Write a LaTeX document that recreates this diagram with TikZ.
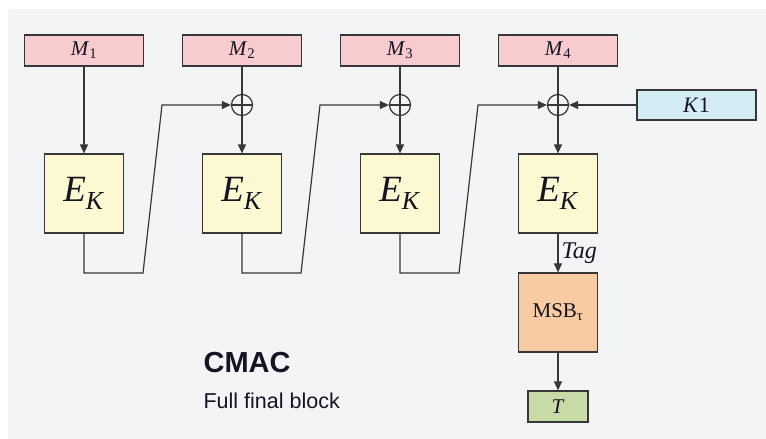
\documentclass[tikz,border=0pt]{standalone}
\usepackage{fontspec}
\setmainfont{Liberation Serif}
\newfontfamily\labelsans{Liberation Sans}
\usetikzlibrary{positioning}
\usetikzlibrary{arrows.meta}
\usetikzlibrary{calc}

\definecolor{paper}{RGB}{243,244,246}
\definecolor{linegray}{RGB}{55,55,55}
\definecolor{inkdark}{RGB}{20,20,35}
\definecolor{msgpink}{RGB}{248,203,206}
\definecolor{encyellow}{RGB}{252,248,210}
\definecolor{keyblue}{RGB}{212,236,244}
\definecolor{msborange}{RGB}{248,203,162}
\definecolor{taggreen}{RGB}{200,218,166}

\begin{document}
\begin{tikzpicture}[
        x=1pt, y=-1pt,
        >={Triangle[length=9pt,width=8pt]},
        node distance=158pt,
        line width=1.2pt,
        text=inkdark,
        msgnode/.style={rectangle, draw=linegray, fill=msgpink, minimum width=119pt, minimum height=31pt, inner sep=0pt, font=\fontsize{21}{21}\selectfont},
        encnode/.style={rectangle, draw=linegray, fill=encyellow, minimum size=79pt, inner sep=0pt, font=\fontsize{37}{37}\selectfont},
        xornode/.style={circle, draw=linegray, minimum size=21pt, inner sep=0pt,
            path picture={\draw[linegray] (path picture bounding box.north) -- (path picture bounding box.south)
                (path picture bounding box.west) -- (path picture bounding box.east);}},
        keynode/.style={rectangle, draw=linegray, fill=keyblue, minimum width=119pt, minimum height=30pt, inner sep=0pt, font=\fontsize{22}{22}\selectfont},
        msbnode/.style={rectangle, draw=linegray, fill=msborange, minimum size=79pt, inner sep=0pt, font=\fontsize{21}{21}\selectfont},
        tagnode/.style={rectangle, draw=linegray, fill=taggreen, minimum width=60pt, minimum height=31pt, inner sep=0pt, font=\fontsize{21}{21}\selectfont}
    ]

        \useasboundingbox (0,0) rectangle (766,439);
        \fill[paper] (8,9) rectangle (766,439);

        % Message blocks
        \node [msgnode] (Msg1) at (84,50.5) {\textit{M}\textsubscript{1}};
        \node [msgnode] (Msg2) [right of = Msg1] {\textit{M}\textsubscript{2}};
        \node [msgnode] (Msg3) [right of = Msg2] {\textit{M}\textsubscript{3}};
        \node [msgnode] (Msg4) [right of = Msg3] {\textit{M}\textsubscript{4}};

        % XOR points
        \node [xornode] (Xor2) [below of = Msg2, node distance=54.5pt] {};
        \node [xornode] (Xor3) [below of = Msg3, node distance=54.5pt] {};
        \node [xornode] (Xor4) [below of = Msg4, node distance=54.5pt] {};
        \node [keynode] (KeyOne) [right of = Xor4, node distance=138.5pt] {\textit{K}1};

        % Block ciphers
        \node [encnode] (Enc1) [below of = Msg1, node distance=143pt] {\textit{E}\textsubscript{\textit{K}}};
        \node [encnode] (Enc2) [below of = Msg2, node distance=143pt] {\textit{E}\textsubscript{\textit{K}}};
        \node [encnode] (Enc3) [below of = Msg3, node distance=143pt] {\textit{E}\textsubscript{\textit{K}}};
        \node [encnode] (Enc4) [below of = Msg4, node distance=143pt] {\textit{E}\textsubscript{\textit{K}}};

        % Truncation and tag
        \node [msbnode] (Msb) [below of = Enc4, node distance=119pt] {MSB\textsubscript{τ}};
        \node [tagnode] (TagOut) [below of = Msb, node distance=94pt] {\textit{T}};

        % Caption
        \node [anchor=base west, inner sep=0pt, font=\labelsans\bfseries\fontsize{29}{29}\selectfont] (Title) at (203,372) {CMAC};
        \node [anchor=base west, inner sep=0pt, font=\labelsans\fontsize{21.5}{21.5}\selectfont] (Subtitle) at (203,408) {Full final block};

        % Arrows down
        \draw[->, linegray] (Msg1) -- (Enc1);
        \draw[linegray] (Msg2) -- (Xor2);
        \draw[linegray] (Msg3) -- (Xor3);
        \draw[linegray] (Msg4) -- (Xor4);
        \draw[->, linegray] (Xor2) -- (Enc2);
        \draw[->, linegray] (Xor3) -- (Enc3);
        \draw[->, linegray] (Xor4) -- (Enc4);
        \draw[->, linegray] (KeyOne) -- (Xor4);

        % Chaining
        \draw[->, linegray] (Enc1.south) |- ($(Xor2.center)+(-99,168)$) -- ($(Xor2.center)+(-80,0)$) -- (Xor2.west);
        \draw[->, linegray] (Enc2.south) |- ($(Xor3.center)+(-99,168)$) -- ($(Xor3.center)+(-80,0)$) -- (Xor3.west);
        \draw[->, linegray] (Enc3.south) |- ($(Xor4.center)+(-99,168)$) -- ($(Xor4.center)+(-80,0)$) -- (Xor4.west);

        % Output
        \draw[->, linegray] (Enc4) -- node [right, inner sep=3pt, text=inkdark, font=\fontsize{24}{24}\selectfont\itshape] {Tag} (Msb);
        \draw[->, linegray] (Msb) -- (TagOut);

    \end{tikzpicture}
\end{document}
